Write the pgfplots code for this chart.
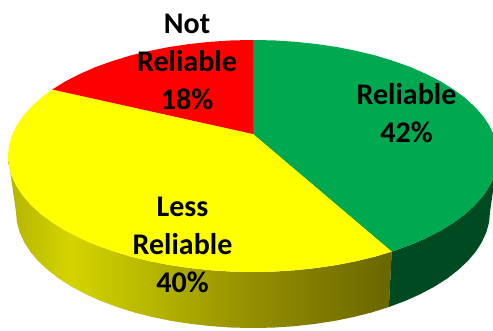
\documentclass[border=0pt]{standalone}
\usepackage{pgfplots}
\pgfplotsset{compat=1.18}
\usepackage{fontspec}
\setmainfont{Carlito}

\definecolor{rimA}{HTML}{B4B400}
\definecolor{rimB}{HTML}{D4D400}
\definecolor{rimC}{HTML}{BEBE00}
\definecolor{rimD}{HTML}{948F00}
\definecolor{rimE}{HTML}{6A6600}
\definecolor{pieGreen}{HTML}{00A84F}
\definecolor{pieYellow}{HTML}{FFFF00}
\definecolor{pieRed}{HTML}{FF0000}
\definecolor{rimGreen}{HTML}{004A22}
% rim of the yellow slice, dark at both ends, brightest left of the middle
\pgfdeclarehorizontalshading{yellowrim}{100bp}{
  color(0bp)=(rimA); color(25bp)=(rimA); color(33bp)=(rimB);
  color(40.9bp)=(rimC); color(56.5bp)=(rimD); color(75bp)=(rimE); color(100bp)=(rimE)}

\begin{document}
\begin{tikzpicture}
\useasboundingbox (0,0) rectangle (493pt,330pt);
\begin{axis}[
  at={(0,0)}, anchor=south west,
  scale only axis,
  width=493pt, height=330pt,
  xmin=0, xmax=493, ymin=0, ymax=330,
  y dir=reverse,
  hide axis,
]
% rim
\addplot[shade, shading=yellowrim, draw=none] coordinates {
  (391.7,251.6) (375.5,256.5) (356.5,261.1) (336.8,265) (316.4,268) (295.5,270.2)
  (274.4,271.6) (253,272) (231.6,271.6) (210.5,270.2) (189.6,268) (169.2,265)
  (149.5,261.1) (130.5,256.5) (112.5,251) (95.5,244.9) (79.8,238) (65.3,230.6)
  (52.3,222.5) (40.8,214) (31,205) (22.8,195.7) (16.4,186) (11.7,176.1) (8.9,166.1) (8,156)
  (16,212) (16.9,222.1) (19.6,232.1) (24.1,242) (30.3,251.7) (38.2,261) (47.8,270)
  (58.8,278.5) (71.5,286.6) (85.4,294) (100.7,300.9) (117.1,307) (134.5,312.5)
  (152.8,317.1) (171.9,321) (191.7,324) (211.9,326.2) (232.3,327.6) (253,328)
  (273.7,327.6) (294.1,326.2) (314.3,324) (334.1,321) (353.2,317.1) (371.5,312.5) (388.9,307)
} --cycle;
\addplot[fill=rimGreen, draw=none] coordinates {
  (391.7,251.6) (410.5,244.9) (426.2,238) (440.7,230.6) (453.7,222.5) (465.2,214)
  (475,205) (483.2,195.7) (489.6,186) (494.3,176.1) (497.1,166.1) (498,156)
  (490,212) (489.1,222.1) (486.4,232.1) (481.9,242) (475.7,251.7) (467.8,261)
  (458.2,270) (447.2,278.5) (434.5,286.6) (420.6,294) (405.3,300.9) (388.9,307)
} --cycle;
% top face
\addplot[fill=pieGreen, draw=none] coordinates {
  (253,134) (253,40) (274.4,40.4) (295.5,41.8) (316.4,44) (336.8,47) (356.5,50.9)
  (375.5,55.5) (393.5,61) (410.5,67.1) (426.2,74) (440.7,81.4) (453.7,89.5) (465.2,98)
  (475,107) (483.2,116.3) (489.6,126) (494.3,135.9) (497.1,145.9) (498,156)
  (497.1,166.1) (494.3,176.1) (489.6,186) (483.2,195.7) (475,205) (465.2,214)
  (453.7,222.5) (440.7,230.6) (426.2,238) (410.5,244.9) (391.7,251.6)
} --cycle;
\addplot[fill=pieYellow, draw=none] coordinates {
  (253,134) (391.7,251.6) (375.5,256.5) (356.5,261.1) (336.8,265) (316.4,268) (295.5,270.2)
  (274.4,271.6) (253,272) (231.6,271.6) (210.5,270.2) (189.6,268) (169.2,265)
  (149.5,261.1) (130.5,256.5) (112.5,251) (95.5,244.9) (79.8,238) (65.3,230.6)
  (52.3,222.5) (40.8,214) (31,205) (22.8,195.7) (16.4,186) (11.7,176.1) (8.9,166.1) (8,156)
  (8.9,145.9) (11.7,135.9) (16.4,126) (22.8,116.3) (31,107) (40.8,98) (52.3,89.5)
} --cycle;
\addplot[fill=pieRed, draw=none] coordinates {
  (253,134) (52.3,89.5) (65.3,81.4) (79.8,74) (95.5,67.1) (112.5,61) (130.5,55.5)
  (149.5,50.9) (169.2,47) (189.6,44) (210.5,41.8) (231.6,40.4) (253,40)
} --cycle;
% labels
\node[align=center, font=\fontsize{30}{38}\selectfont\bfseries] at (axis cs:187,62) {Not\\Reliable\\18\%};
\node[align=center, font=\fontsize{30}{38}\selectfont\bfseries] at (axis cs:406.5,113) {Reliable\\42\%};
\node[align=center, font=\fontsize{30}{38}\selectfont\bfseries] at (axis cs:182.5,245) {Less\\Reliable\\40\%};
\end{axis}
\end{tikzpicture}
\end{document}
